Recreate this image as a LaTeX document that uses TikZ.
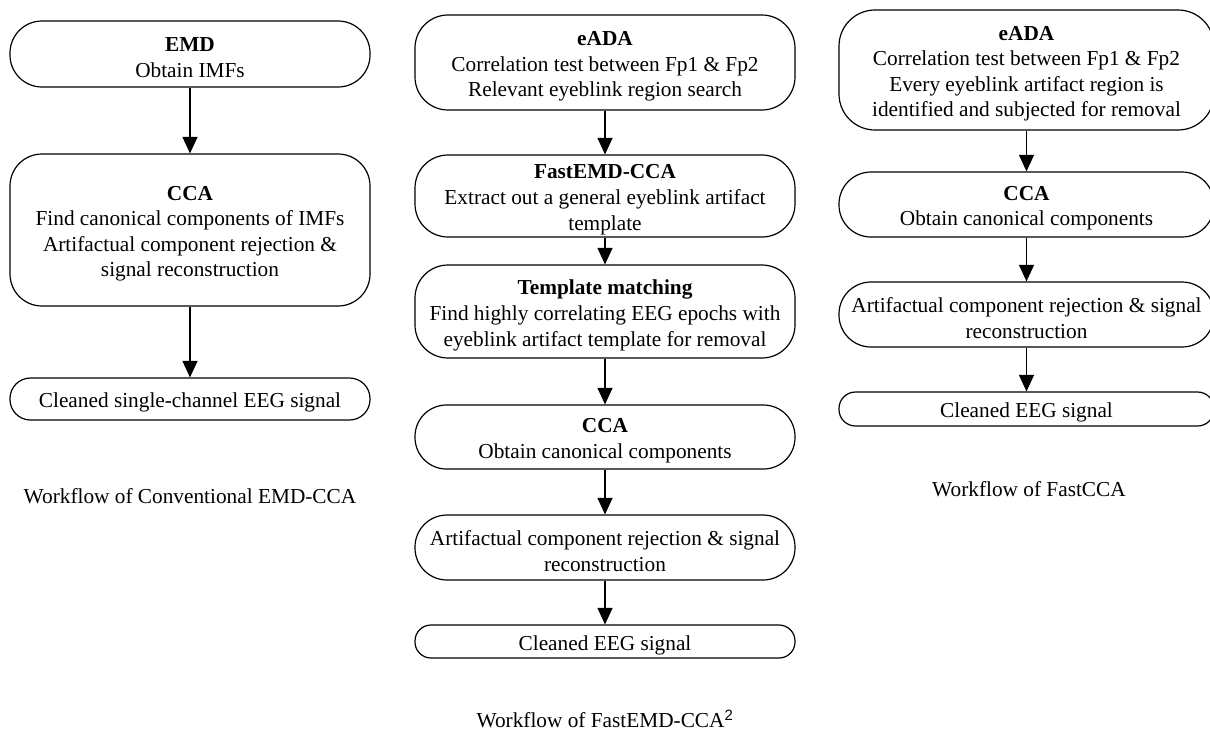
\documentclass[tikz,border=0pt]{standalone}
\usepackage{fontspec}
\setmainfont{Liberation Serif}
\setsansfont{Liberation Sans}
\usetikzlibrary{arrows.meta}
\tikzset{
  box/.style 2 args={draw=black, line width=1.2pt, rectangle, inner sep=0pt,
    minimum width=#1, minimum height=#2,
    label={[boxtext]center:##1}},
  boxtext/.style={font=\fontsize{21.3}{25.6}\selectfont, align=center, inner sep=0pt, yshift=-3.8pt},
  arr/.style={line width=1.2pt, -{Triangle[length=16.5pt,width=15pt]}},
  captiontext/.style={font=\fontsize{21.3}{25.6}\selectfont, inner sep=0pt}
}
\newcommand\flowbox[7]{% name, x, y, width, height, radius, text
  \node[draw=black, line width=1.2pt, rectangle, inner sep=0pt,
    minimum width=#4, minimum height=#5, rounded corners=#6,
    label={[boxtext]center:#7}] (#1) at (#2,#3) {};}
\begin{document}
\begin{tikzpicture}[x=1pt,y=-1pt]
\useasboundingbox (0,0) rectangle (1210,732);
% Left column
\flowbox{L1}{190}{54}{360pt}{66pt}{32pt}{\textbf{EMD}\\Obtain IMFs}
\flowbox{L2}{190}{230}{360pt}{152pt}{32pt}{\textbf{CCA}\\Find canonical components of IMFs\\Artifactual component rejection \&\\signal reconstruction}
\flowbox{L3}{190}{399}{360pt}{42pt}{20.5pt}{Cleaned single-channel EEG signal}
\node[captiontext] (LC) at (190,496) {Workflow of Conventional EMD-CCA};
\draw[arr] (L1) -- (L2);
\draw[arr] (L2) -- (L3);
% Middle column
\flowbox{M1}{605}{62.5}{380pt}{95pt}{33pt}{\textbf{eADA}\\Correlation test between Fp1 \& Fp2\\Relevant eyeblink region search}
\flowbox{M2}{605}{196}{380pt}{82pt}{33pt}{\textbf{FastEMD-CCA}\\Extract out a general eyeblink artifact\\template}
\flowbox{M3}{605}{311.5}{380pt}{93pt}{33pt}{\textbf{Template matching}\\Find highly correlating EEG epochs with\\eyeblink artifact template for removal}
\flowbox{M4}{605}{437}{380pt}{64pt}{31.5pt}{\textbf{CCA}\\Obtain canonical components}
\flowbox{M5}{605}{547.5}{380pt}{65pt}{32pt}{Artifactual component rejection \& signal\\reconstruction}
\flowbox{M6}{605}{641.5}{380pt}{33pt}{16pt}{Cleaned EEG signal}
\node[captiontext] (MC) at (605,719) {Workflow of FastEMD-CCA\textsuperscript{\sffamily 2}};
\draw[arr] (M1) -- (M2);
\draw[arr] (M2) -- (M3);
\draw[arr] (M3) -- (M4);
\draw[arr] (M4) -- (M5);
\draw[arr] (M5) -- (M6);
% Right column
\flowbox{R1}{1026.5}{70}{375pt}{120pt}{36pt}{\textbf{eADA}\\Correlation test between Fp1 \& Fp2\\Every eyeblink artifact region is\\identified and subjected for removal}
\flowbox{R2}{1026.5}{204.5}{375pt}{65pt}{32pt}{\textbf{CCA}\\Obtain canonical components}
\flowbox{R3}{1026.5}{314.5}{375pt}{65pt}{32pt}{Artifactual component rejection \& signal\\reconstruction}
\flowbox{R4}{1026.5}{409}{375pt}{34pt}{16.5pt}{Cleaned EEG signal}
\node[captiontext] (RC) at (1029,489) {Workflow of FastCCA};
\draw[arr] (R1) -- (R2);
\draw[arr] (R2) -- (R3);
\draw[arr] (R3) -- (R4);
\end{tikzpicture}
\end{document}
